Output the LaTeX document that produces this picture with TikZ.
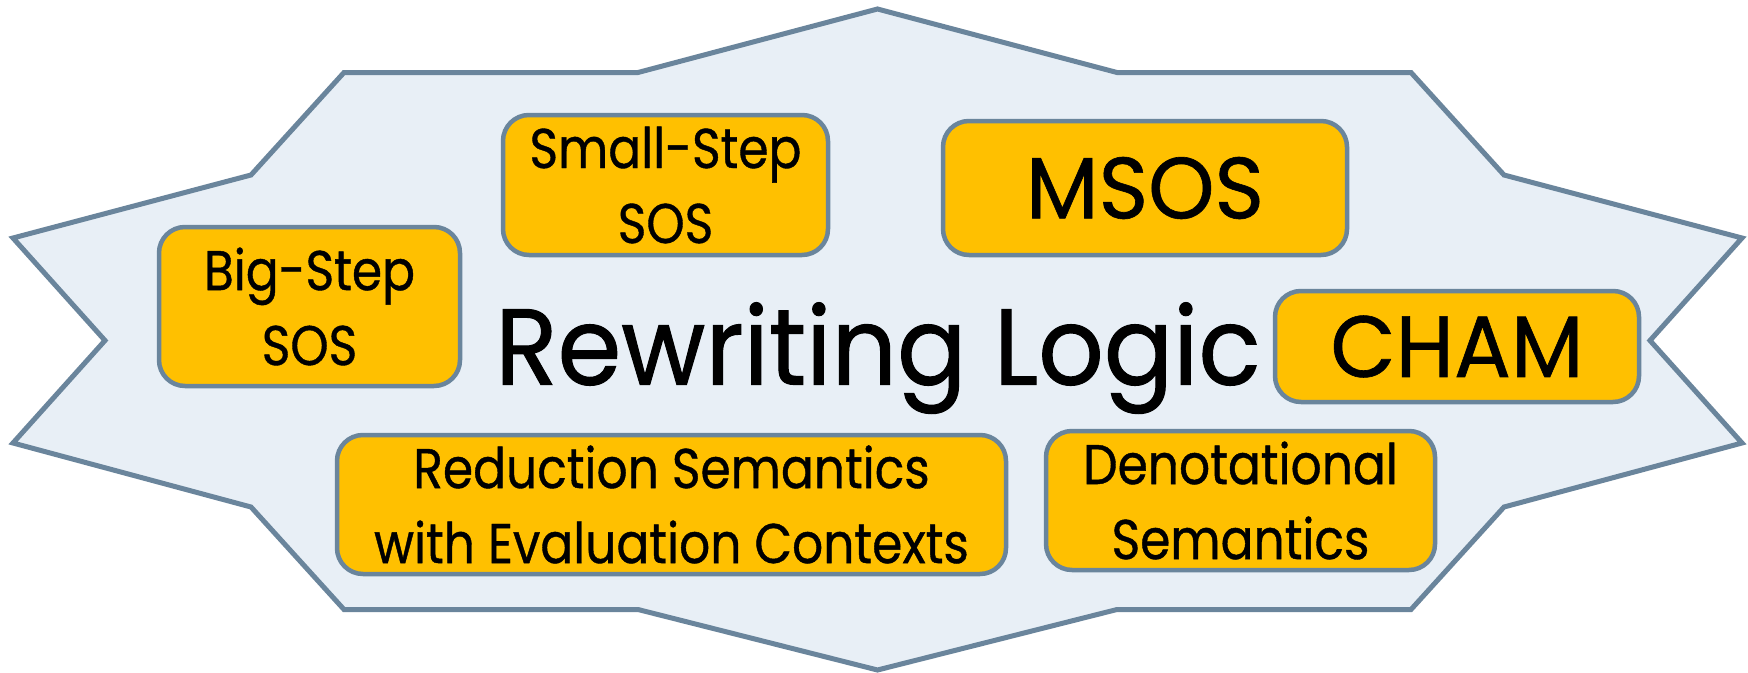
\documentclass[tikz,border=0pt]{standalone}
\usepackage{fontspec}
\setmainfont{Poppins}
\newfontfamily\labelfont{Poppins}[FakeStretch=0.87, FakeBold=0.7]
\newfontfamily\wordfont{Poppins}[FakeStretch=0.97, FakeBold=0.7]
\newfontfamily\titlefont{Poppins}[FakeStretch=0.95, FakeBold=0.9]
\definecolor{starfill}{HTML}{E8EFF6}
\definecolor{slate}{HTML}{6A859C}
\definecolor{gold}{HTML}{FFC000}
\begin{document}
\begin{tikzpicture}[x=1pt,y=-1pt,
  semantics/.style={draw=slate, line width=4.5pt, fill=gold, rounded corners=26pt,
    inner sep=0pt, align=center, text=black, font=\labelfont\fontsize{56}{75}\selectfont},
  bigword/.style={font=\wordfont\fontsize{87}{100}\selectfont},
  title/.style={anchor=base, text=black, font=\titlefont\fontsize{108}{120}\selectfont}]
\useasboundingbox (0,0) rectangle (1748,672);
\fill[white] (0,0) rectangle (1748,672);
% twenty-point star behind everything
\draw[slate, line width=5pt, fill=starfill, line join=miter]
  (877.5,9) -- (1117,72.5) -- (1411,72.5) -- (1504,175) -- (1742,238)
  -- (1650,340.5) -- (1742,443) -- (1504,507) -- (1411,609.5) -- (1117,609.5)
  -- (877.5,670) -- (638,609.5) -- (344,609.5) -- (251,507) -- (13,443)
  -- (105,340.5) -- (13,238) -- (251,175) -- (344,72.5) -- (638,72.5) -- cycle;
% the semantic styles
\node[semantics, minimum width=301pt, minimum height=159pt] (bigstep) at (309.5,306.5) {Big-Step\\SOS};
\node[semantics, minimum width=325pt, minimum height=140pt] (smallstep) at (665.5,185) {Small-Step\\SOS};
\node[semantics, bigword, minimum width=404pt, minimum height=134pt] (msos) at (1145,188) {MSOS};
\node[semantics, bigword, minimum width=364pt, minimum height=111pt] (cham) at (1457,346.5) {CHAM};
\node[semantics, minimum width=669pt, minimum height=139pt] (reduction) at (671.5,504.5) {Reduction Semantics\\with Evaluation Contexts};
\node[semantics, minimum width=389pt, minimum height=139pt] (denot) at (1240.5,500.5) {Denotational\\Semantics};
% central title
\node[title] (rwl) at (878,384.6) {Rewriting Logic};
\end{tikzpicture}
\end{document}
